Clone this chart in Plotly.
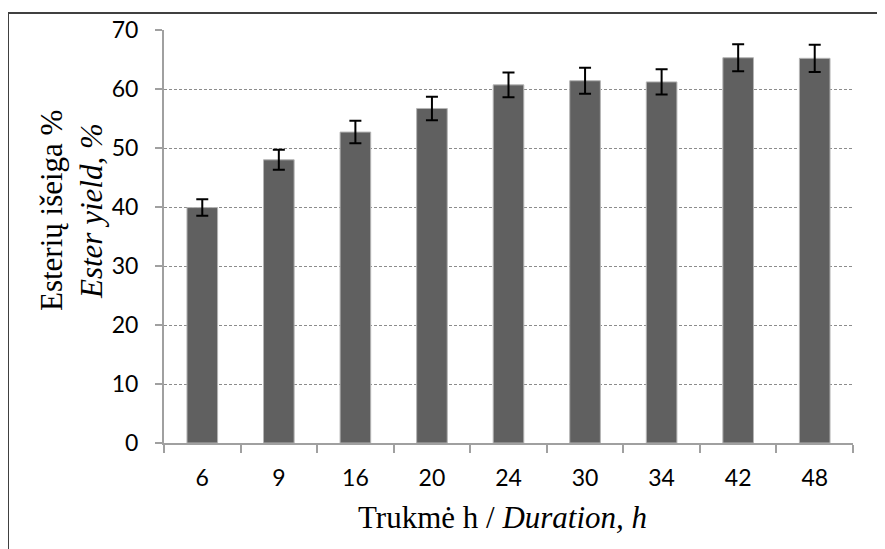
import plotly.graph_objects as go

durations = ["6", "9", "16", "20", "24", "30", "34", "42", "48"]
yield_pct = [39.9, 48.0, 52.7, 56.7, 60.7, 61.4, 61.2, 65.3, 65.2]
yield_err = [1.4, 1.7, 1.9, 2.0, 2.1, 2.2, 2.15, 2.3, 2.3]
y_ticks = [0, 10, 20, 30, 40, 50, 60, 70]

# page body has an 8px margin, so figure coordinates are page - 8
W, H = 885, 549
L, R, T, B = 156, 40, 22, 114
pw, ph = W - L - R, H - T - B

fig = go.Figure()
fig.add_trace(go.Bar(
    x=durations, y=yield_pct,
    marker=dict(color="#606060", line=dict(color="#b4b4b4", width=1)),
    error_y=dict(type="data", array=yield_err, visible=True,
                 color="#000000", thickness=2, width=6),
    width=0.4,
))

def px_x(x):
    return (x - L) / pw

def px_y(y):
    return 1 - (y - T) / ph

title_font = dict(family="Liberation Serif", size=31, color="#000000")

fig.update_layout(
    width=W, height=H,
    margin=dict(l=L, r=R, t=T, b=B, autoexpand=False),
    paper_bgcolor="white", plot_bgcolor="white",
    showlegend=False,
    bargap=0.6,
    xaxis=dict(
        type="category",
        showline=True, linecolor="#a0a0a0", linewidth=2,
        ticks="outside", tickson="boundaries", ticklen=8, tickwidth=1.5,
        tickcolor="#a0a0a0",
        tickfont=dict(family="Lato", size=23, color="#000000"),
        ticklabelstandoff=13,
        showgrid=False, automargin=False,
    ),
    yaxis=dict(
        range=[0, 70], tickvals=y_ticks,
        showline=True, linecolor="#a0a0a0", linewidth=2,
        ticks="outside", ticklen=7, tickwidth=1.5, tickcolor="#a0a0a0",
        tickfont=dict(family="Lato", size=23, color="#000000"),
        ticklabelstandoff=12,
        showgrid=True, gridcolor="#8c8c8c", gridwidth=1, griddash="3px,2px",
        zeroline=False, automargin=False,
    ),
    annotations=[
        dict(text="Esterių išeiga %", textangle=-90, xref="paper", yref="paper",
             x=px_x(43), y=px_y(203), xanchor="center", yanchor="middle",
             showarrow=False, font=title_font),
        dict(text="<i>Ester yield, %</i>", textangle=-90, xref="paper", yref="paper",
             x=px_x(83), y=px_y(203), xanchor="center", yanchor="middle",
             showarrow=False, font=title_font),
        dict(text="Trukmė h / <i>Duration, h</i>", xref="paper", yref="paper",
             x=px_x(494), y=px_y(510), xanchor="center", yanchor="middle",
             showarrow=False, font=title_font),
    ],
    shapes=[
        dict(type="rect", xref="paper", yref="paper",
             x0=px_x(0), y0=px_y(600), x1=px_x(920), y1=px_y(5),
             line=dict(color="#404040", width=2), fillcolor="rgba(0,0,0,0)",
             layer="below"),
    ],
)

fig.write_html("out.html")
